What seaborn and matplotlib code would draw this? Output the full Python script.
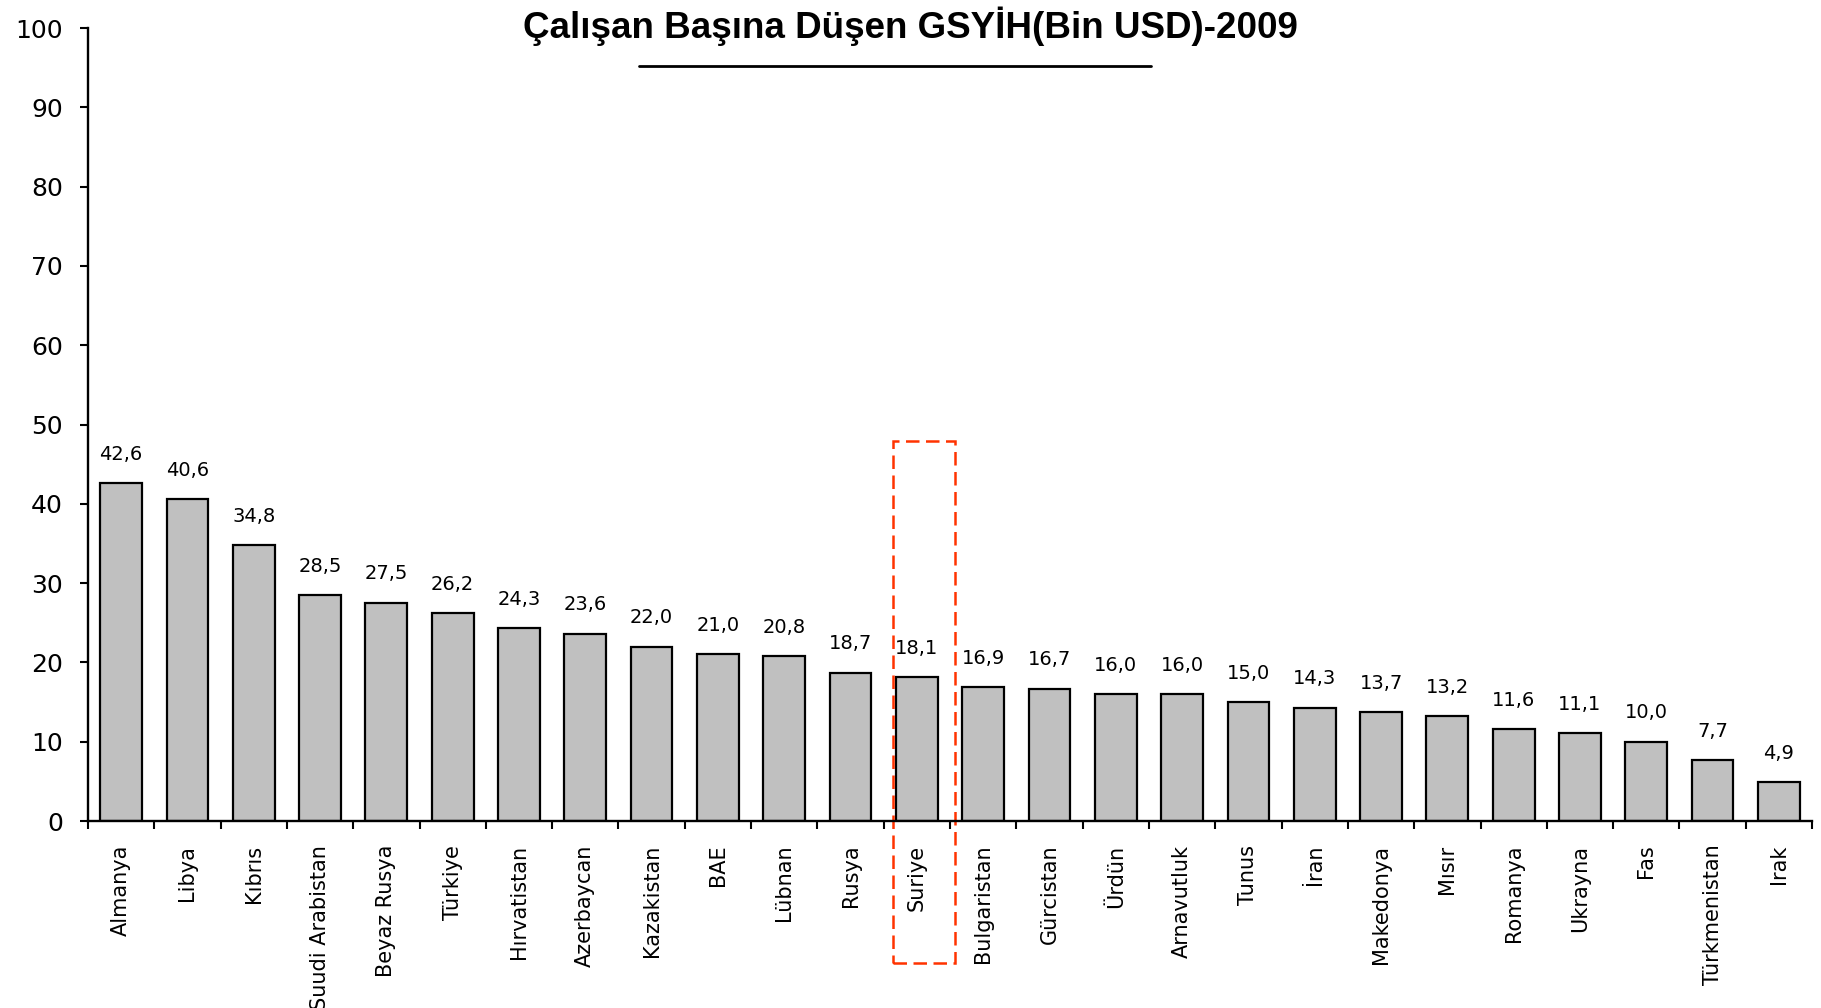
import matplotlib
matplotlib.use("Agg")
from matplotlib import pyplot as plt
from matplotlib.patches import Rectangle
from matplotlib.lines import Line2D
import seaborn as sns

# data
countries = ["Almanya", "Libya", "Kıbrıs", "Suudi Arabistan", "Beyaz Rusya", "Türkiye",
             "Hırvatistan", "Azerbaycan", "Kazakistan", "BAE", "Lübnan", "Rusya", "Suriye",
             "Bulgaristan", "Gürcistan", "Ürdün", "Arnavutluk", "Tunus", "İran", "Makedonya",
             "Mısır", "Romanya", "Ukrayna", "Fas", "Türkmenistan", "Irak"]
values = [42.6, 40.6, 34.8, 28.5, 27.5, 26.2, 24.3, 23.6, 22.0, 21.0, 20.8, 18.7, 18.1,
          16.9, 16.7, 16.0, 16.0, 15.0, 14.3, 13.7, 13.2, 11.6, 11.1, 10.0, 7.7, 4.9]
yticks = [0, 10, 20, 30, 40, 50, 60, 70, 80, 90, 100]
highlight = "Suriye"
title = "Çalışan Başına Düşen GSYİH(Bin USD)-2009"

sns.set_style("white")
plt.rcParams['font.family'] = ['DejaVu Sans']
plt.rcParams['text.color'] = 'black'
plt.rcParams['xtick.color'] = 'black'
plt.rcParams['ytick.color'] = 'black'

fig = plt.figure(figsize=(18.21, 10.08), dpi=100)
ax = fig.add_axes([0.0483, 0.1855, 0.9468, 0.7867])

sns.barplot(x=countries, y=values, color="#C0C0C0", saturation=1, width=0.63,
            edgecolor="black", linewidth=1.6, ax=ax)

ax.bar_label(ax.containers[0], labels=[f"{v:.1f}".replace(".", ",") for v in values],
             padding=14, fontsize=14, color="black")

ax.set_xlim(-0.5, len(countries) - 0.5)
ax.set_ylim(0, 100)
ax.set_yticks(yticks)
ax.set_xlabel("")
ax.set_ylabel("")

for s in ["top", "right"]:
    ax.spines[s].set_visible(False)
for s in ["left", "bottom"]:
    ax.spines[s].set_linewidth(1.7)
    ax.spines[s].set_color("black")

ax.tick_params(axis="y", direction="out", length=6, width=1.5, labelsize=18, pad=12, left=True)
ax.set_xticks(range(len(countries)))
ax.set_xticklabels(countries, rotation=90, fontsize=15)
ax.tick_params(axis="x", which="major", length=0, pad=17)
ax.set_xticks([i - 0.5 for i in range(len(countries) + 1)], minor=True)
ax.tick_params(axis="x", which="minor", direction="out", length=6, width=1.5, bottom=True)

# red dashed frame around Suriye
i = countries.index(highlight)
ax.add_patch(Rectangle((i - 0.36, -17.9), 0.93, 65.8, fill=False, edgecolor="#FF3300",
                       linewidth=1.8, linestyle=(0, (5.4, 2.6)), clip_on=False))

fig.text(0.500, 0.974, title, ha="center", va="center", fontsize=26.5,
         fontweight="bold", family=["Liberation Sans", "DejaVu Sans"])
fig.add_artist(Line2D([0.351, 0.632], [0.935, 0.935], color="black", linewidth=2,
                      transform=fig.transFigure))

fig.savefig("out.png", dpi=100)
